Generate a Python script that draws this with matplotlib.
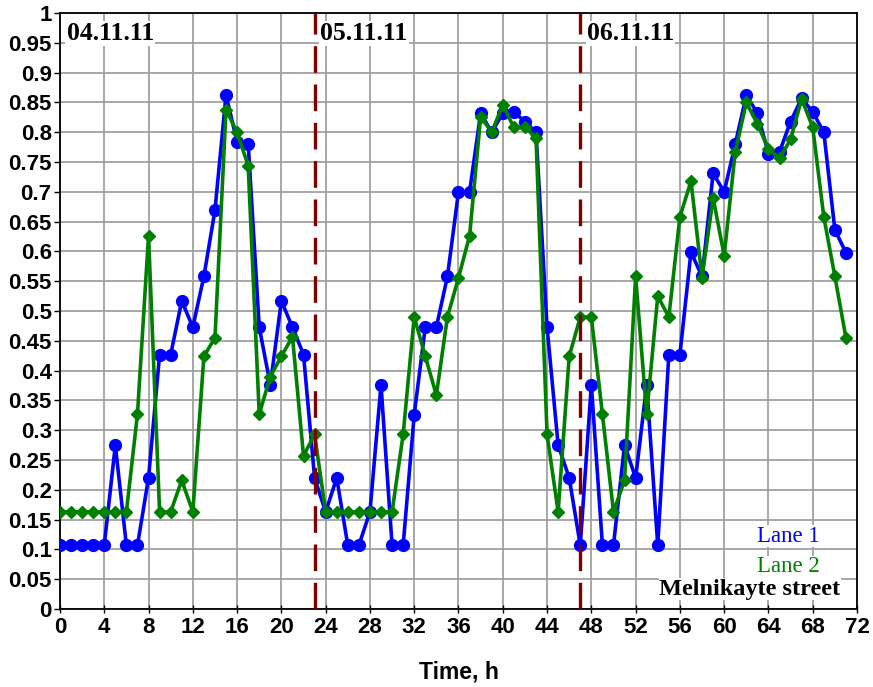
import numpy as np
import matplotlib
matplotlib.use('Agg')
import matplotlib.pyplot as plt
from matplotlib.ticker import MultipleLocator, FuncFormatter

# hourly occupancy, Melnikayte street, 04.11.11 - 06.11.11
hours = np.arange(72)
lane1 = [0.107, 0.107, 0.107, 0.107, 0.107, 0.275, 0.107, 0.107, 0.220, 0.427,
         0.427, 0.517, 0.473, 0.558, 0.669, 0.862, 0.784, 0.781, 0.473, 0.376,
         0.517, 0.473, 0.427, 0.220, 0.163, 0.220, 0.107, 0.107, 0.163, 0.376,
         0.107, 0.107, 0.326, 0.473, 0.473, 0.558, 0.700, 0.700, 0.832, 0.800,
         0.832, 0.834, 0.818, 0.800, 0.473, 0.275, 0.220, 0.107, 0.376, 0.107,
         0.107, 0.275, 0.220, 0.376, 0.107, 0.427, 0.427, 0.599, 0.558, 0.731,
         0.700, 0.780, 0.862, 0.832, 0.764, 0.767, 0.818, 0.857, 0.834, 0.800,
         0.636, 0.598]
lane2 = [0.163, 0.163, 0.163, 0.163, 0.163, 0.163, 0.163, 0.327, 0.626, 0.163,
         0.163, 0.216, 0.163, 0.424, 0.455, 0.838, 0.800, 0.744, 0.327, 0.390,
         0.424, 0.457, 0.257, 0.293, 0.163, 0.163, 0.163, 0.163, 0.163, 0.163,
         0.163, 0.293, 0.490, 0.424, 0.359, 0.490, 0.556, 0.626, 0.826, 0.800,
         0.846, 0.808, 0.808, 0.791, 0.293, 0.163, 0.424, 0.490, 0.490, 0.327,
         0.163, 0.216, 0.558, 0.327, 0.525, 0.490, 0.658, 0.718, 0.556, 0.690,
         0.593, 0.767, 0.850, 0.814, 0.772, 0.756, 0.788, 0.856, 0.808, 0.658,
         0.558, 0.455]
day_breaks = [23, 47]
day_labels = ['04.11.11', '05.11.11', '06.11.11']
day_label_x = [0.6, 23.5, 47.6]

plt.rcParams['font.family'] = 'Liberation Sans'

fig = plt.figure(figsize=(8.73, 6.87), dpi=100)
ax = fig.add_axes([0.0687, 0.1135, 0.9130, 0.8675])

ax.plot(hours, lane1, '-o', color='#0000ff', lw=2.6, ms=8.5, zorder=4)
ax.plot(hours, lane2, '-D', color='#008000', lw=2.6, ms=6.2, zorder=5)

for xb in day_breaks:
    ax.axvline(xb, color='#800000', lw=2.4, dashes=(8, 3.5), zorder=6)

serif = 'Liberation Serif'
for xl, txt in zip(day_label_x, day_labels):
    ax.text(xl, 0.966, txt, fontsize=18.5, fontweight='bold', family=serif,
            va='center', ha='left', zorder=7,
            bbox=dict(facecolor='white', edgecolor='none', pad=1.0))

ax.text(65.8, 0.122, 'Lane 1', fontsize=16.5, family=serif, color='#0000ff',
        ha='center', va='center', zorder=7,
        bbox=dict(facecolor='white', edgecolor='none', pad=0.3))
ax.text(65.8, 0.071, 'Lane 2', fontsize=16.5, family=serif, color='#008000',
        ha='center', va='center', zorder=7,
        bbox=dict(facecolor='white', edgecolor='none', pad=0.3))
ax.text(62.3, 0.033, 'Melnikayte street', fontsize=17.5, family=serif,
        fontweight='bold', color='black', ha='center', va='center', zorder=7,
        bbox=dict(facecolor='white', edgecolor='none', pad=0.3))

ax.set_xlim(0, 72)
ax.set_ylim(0, 1)
ax.xaxis.set_major_locator(MultipleLocator(4))
ax.yaxis.set_major_locator(MultipleLocator(0.05))
ax.yaxis.set_major_formatter(FuncFormatter(lambda v, _: f'{round(v, 2):g}'))
ax.grid(True, color='#a0a0a0', lw=1.3, zorder=0)
ax.set_axisbelow(True)
for s in ax.spines.values():
    s.set_linewidth(1.3)
    s.set_color('black')
ax.tick_params(axis='both', labelsize=16, width=1, length=4, direction='out')
ax.tick_params(axis='y', pad=2)
ax.tick_params(axis='x', direction='inout', length=6, pad=3)
for lab in ax.get_xticklabels() + ax.get_yticklabels():
    lab.set_fontweight('bold')

ax.set_xlabel('Time, h', fontsize=16.5, fontweight='bold', labelpad=16)

fig.savefig('out.png', dpi=100, facecolor='white')
